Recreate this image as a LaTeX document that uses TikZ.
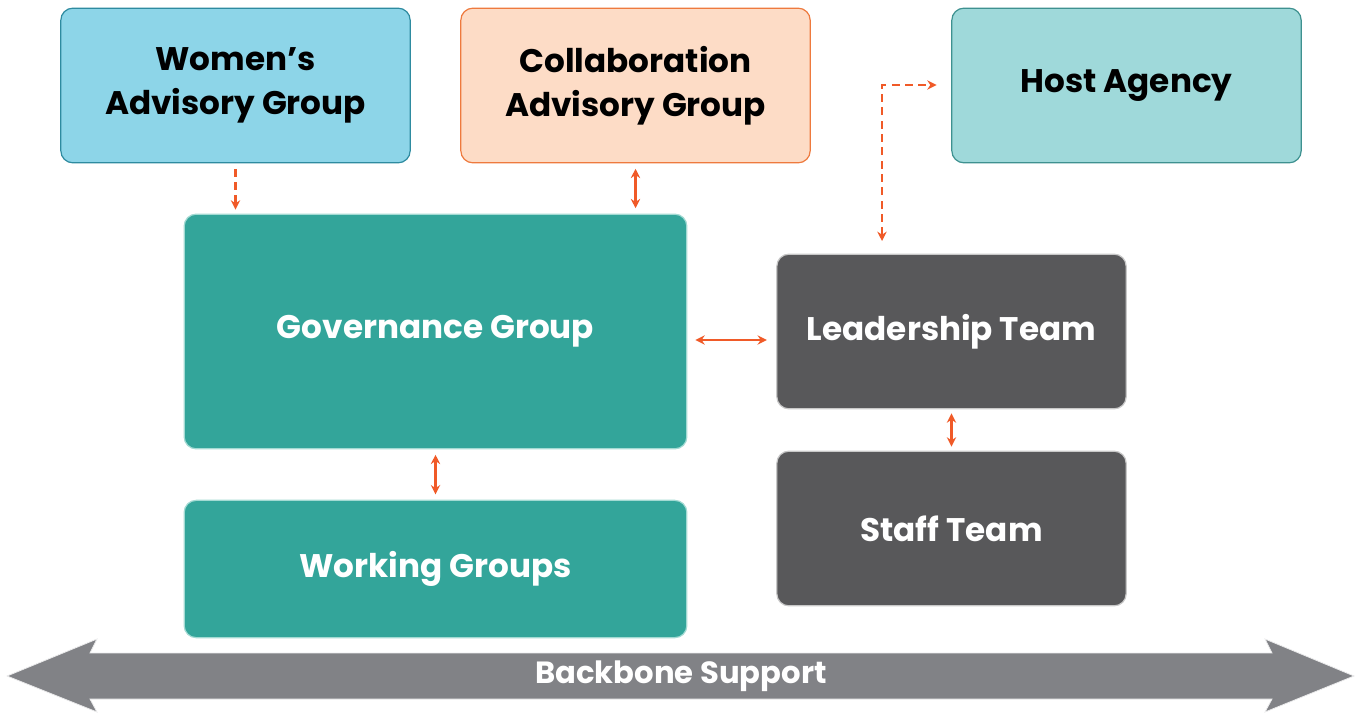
\documentclass[tikz,border=0pt]{standalone}
\usepackage{fontspec}
\setmainfont{Poppins}
\usetikzlibrary{arrows.meta}
\definecolor{waFill}{HTML}{8DD5E8}
\definecolor{waLine}{HTML}{2E8BA0}
\definecolor{caFill}{HTML}{FDDCC6}
\definecolor{caLine}{HTML}{EE7A3E}
\definecolor{haFill}{HTML}{9FD9DA}
\definecolor{haLine}{HTML}{3E9190}
\definecolor{govFill}{HTML}{33A59A}
\definecolor{govLine}{HTML}{A3DAD3}
\definecolor{darkFill}{HTML}{58585A}
\definecolor{darkLine}{HTML}{C8C8C8}
\definecolor{linkc}{HTML}{F05A28}
\definecolor{backbone}{HTML}{818286}
\begin{document}
\begin{tikzpicture}[x=0.75pt,y=-0.75pt,
  box/.style={rounded corners=9pt,line width=0.9pt,inner sep=0pt,align=center,font=\bfseries\fontsize{24.5}{33}\selectfont},
  darktext/.style={text=black},
  lighttext/.style={text=white},
  link/.style={draw=linkc,line width=1.6pt,-{Stealth[length=7pt,width=7pt]}},
  both/.style={link,{Stealth[length=7pt,width=7pt]}-{Stealth[length=7pt,width=7pt]}},
  dashlink/.style={link,dash pattern=on 6pt off 4pt}]
\useasboundingbox (0,0) rectangle (1356,713);

% advisory bodies along the top
\node[box,darktext,fill=waFill,draw=waLine,minimum width=262pt,minimum height=116pt] (wag) at (235.5,85.5) {Women’s\\Advisory Group};
\node[box,darktext,fill=caFill,draw=caLine,minimum width=262pt,minimum height=116pt] (cag) at (635.5,85.5) {Collaboration\\Advisory Group};
\node[box,darktext,fill=haFill,draw=haLine,minimum width=262pt,minimum height=116pt] (host) at (1126.5,85.5) {Host Agency};

% governance side
\node[box,lighttext,fill=govFill,draw=govLine,minimum width=377pt,minimum height=176pt] (gov) at (435.5,331.5) {Governance Group};
\node[box,lighttext,fill=govFill,draw=govLine,minimum width=377pt,minimum height=103pt] (work) at (435.5,569) {Working Groups};

% operations side
\node[box,lighttext,fill=darkFill,draw=darkLine,minimum width=262pt,minimum height=116pt] (lead) at (951.5,331.5) {Leadership Team};
\node[box,lighttext,fill=darkFill,draw=darkLine,minimum width=262pt,minimum height=116pt] (staff) at (951.5,528.5) {Staff Team};

% connectors
\draw[dashlink] ([yshift=-4pt]wag.south) -- ([yshift=3pt]gov.north -| wag.south);
\draw[both] ([yshift=-4pt]cag.south) -- ([yshift=4pt]gov.north -| cag.south);
\coordinate (bend) at (882,85);
\draw[dashlink,{Stealth[length=7pt,width=7pt]}-{Stealth[length=7pt,width=7pt]}] (882,241) -- (bend) -- ([xshift=-11pt]host.west |- bend);
\draw[both] ([xshift=6pt]gov.east |- 0,340) -- ([xshift=-7pt]lead.west |- 0,340);
\draw[both] ([yshift=-4pt]gov.south) -- ([yshift=4pt]work.north);
\draw[both] ([yshift=-3pt]lead.south) -- ([yshift=3pt]staff.north);

% backbone support banner
\node[inner sep=0pt] (bb) at (681,676) {};
\fill[backbone,draw=white!85!backbone,line width=0.6pt]
  (7,676) -- (97,639) -- (90,653) -- (1272,653) -- (1265,639) -- (1354,676)
  -- (1265,712) -- (1272,699) -- (90,699) -- (97,712) -- cycle;
\node[text=white,font=\bfseries\fontsize{23}{28}\selectfont] at (bb) {Backbone Support};
\end{tikzpicture}
\end{document}
